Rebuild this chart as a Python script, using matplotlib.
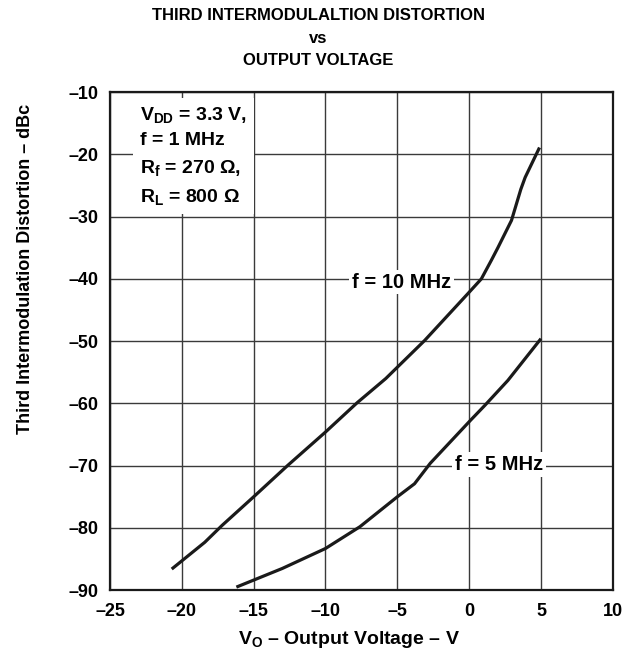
import matplotlib
matplotlib.use("Agg")
import matplotlib.pyplot as plt

plt.rcParams['font.family'] = ['Liberation Sans', 'DejaVu Sans']
plt.rcParams['font.weight'] = 'bold'
plt.rcParams['mathtext.fontset'] = 'custom'
plt.rcParams['mathtext.rm'] = 'Liberation Sans:bold'
plt.rcParams['mathtext.it'] = 'Liberation Sans:bold'
plt.rcParams['mathtext.bf'] = 'Liberation Sans:bold'

# Data
x_10mhz = [-20.7, -18.4, -17.2, -15.0, -12.6, -10.0, -7.8, -5.8, -3.1, -0.1, 0.85, 1.55, 2.0, 2.95, 3.6, 3.9, 4.9]
y_10mhz = [-86.6, -82.3, -79.6, -75.0, -69.9, -64.6, -59.9, -56.0, -49.9, -42.4, -40.0, -37.0, -35.0, -30.6, -25.6, -23.7, -18.9]
x_5mhz = [-16.2, -13.0, -10.0, -7.6, -5.0, -3.8, -2.7, 0.1, 1.1, 2.7, 5.0]
y_5mhz = [-89.5, -86.5, -83.3, -79.8, -75.0, -72.9, -69.6, -62.7, -60.3, -56.3, -49.6]
xticks = [-25, -20, -15, -10, -5, 0, 5, 10]
yticks = [-10, -20, -30, -40, -50, -60, -70, -80, -90]

fig = plt.figure(figsize=(6.43, 6.58), dpi=100)
ax = fig.add_axes([0.171, 0.103, 0.782, 0.757])

ax.plot(x_10mhz, y_10mhz, color='#1a1a1a', lw=2.3, solid_capstyle='butt', solid_joinstyle='round', zorder=3)
ax.plot(x_5mhz, y_5mhz, color='#1a1a1a', lw=2.3, solid_capstyle='butt', solid_joinstyle='round', zorder=3)

ax.set_xlim(-25, 10)
ax.set_ylim(-90, -10)
ax.set_xticks(xticks)
ax.set_yticks(yticks)
ax.set_xticklabels(['–' + str(abs(t)) if t < 0 else str(t) for t in xticks])
ax.set_yticklabels(['–' + str(abs(t)) for t in yticks])
ax.tick_params(length=0, labelsize=13)
ax.tick_params(axis='x', pad=9)
ax.tick_params(axis='y', pad=8)
for lab in ax.get_xticklabels() + ax.get_yticklabels():
    lab.set_fontweight('bold')
ax.grid(True, color='#3a3a3a', lw=1.0, zorder=1)
for s in ax.spines.values():
    s.set_linewidth(1.6)
    s.set_color('#1a1a1a')

ax.set_xlabel(r'$V_O$ – Output Voltage – V', fontsize=14, fontweight='bold')
ax.xaxis.set_label_coords(0.475, -0.078)
ax.set_ylabel('Third Intermodulation Distortion – dBc', fontsize=13, fontweight='bold')
ax.yaxis.set_label_coords(-0.152, 0.645)

fig.text(0.495, 0.988, 'THIRD INTERMODULALTION DISTORTION\nvs\nOUTPUT VOLTAGE',
         ha='center', va='top', fontsize=12, fontweight='bold', linespacing=1.65)

ax.text(-22.9, -12.0,
        r'$V_{DD}$ = 3.3 V,' + '\n' + 'f = 1 MHz' + '\n' + r'$R_f$ = 270 Ω,' + '\n' + r'$R_L$ = 800 Ω',
        ha='left', va='top', fontsize=14, fontweight='bold', linespacing=1.6,
        bbox=dict(facecolor='white', edgecolor='none', pad=5), zorder=4)

ax.text(-4.7, -40.5, 'f = 10 MHz', ha='center', va='center', fontsize=14.5, fontweight='bold',
        bbox=dict(facecolor='white', edgecolor='none', pad=2), zorder=4)
ax.text(2.1, -69.8, 'f = 5 MHz', ha='center', va='center', fontsize=14.5, fontweight='bold',
        bbox=dict(facecolor='white', edgecolor='none', pad=2), zorder=4)

fig.savefig('out.png', dpi=100)
